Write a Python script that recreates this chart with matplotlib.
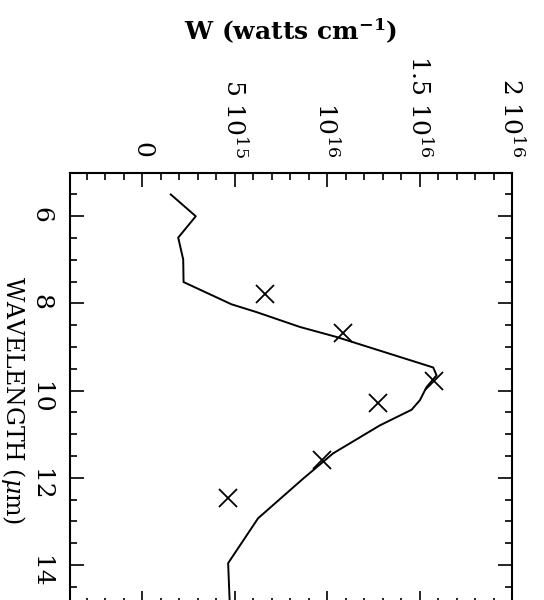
import matplotlib
matplotlib.use("Agg")
import matplotlib.pyplot as plt
from matplotlib.ticker import MultipleLocator

plt.rcParams['font.family'] = ['DejaVu Serif']
plt.rcParams['mathtext.fontset'] = 'custom'
plt.rcParams['mathtext.rm'] = 'DejaVu Serif'
plt.rcParams['mathtext.it'] = 'DejaVu Serif:italic'
plt.rcParams['mathtext.bf'] = 'DejaVu Serif:bold'

# model curve (wavelength in um, W in watts/cm)
lam_model = [5.5, 6.0, 6.49, 6.99, 7.51, 8.02, 8.2, 8.54, 8.77, 9.47, 9.65,
             9.92, 10.22, 10.44, 10.8, 11.44, 12.02, 12.93, 13.96, 14.92]
w_model = [1.55, 2.90, 1.95, 2.22, 2.24, 4.83, 6.19, 8.53, 10.51, 15.74, 15.92,
           15.38, 15.02, 14.57, 12.85, 10.33, 8.71, 6.27, 4.65, 4.74]

# measured points
lam_obs = [7.79, 8.69, 9.78, 10.28, 11.60, 12.47]
w_obs = [6.64, 10.87, 15.78, 12.73, 9.74, 4.65]

w_ticks = [0, 5e15, 1e16, 1.5e16, 2e16]
w_ticklabels = ['0', r'5 10$^{15}$', r'10$^{16}$', r'1.5 10$^{16}$', r'2 10$^{16}$']
lam_ticks = [6, 8, 10, 12, 14]
lam_ticklabels = ['6', '8', '10', '12', '14']

w_model = [v * 1e15 for v in w_model]
w_obs = [v * 1e15 for v in w_obs]

fig = plt.figure(figsize=(5.44, 6.0), dpi=100)
ax = fig.add_axes([0.1287, -0.0083, 0.8125, 0.7205])

ax.plot(w_model, lam_model, color='black', lw=1.4)
ax.plot(w_obs, lam_obs, ls='none', marker='x', ms=13, mew=1.3, color='black')

ax.set_xlim(-3.9e15, 2e16)
ax.set_ylim(14.92, 5)

ax.set_xticks(w_ticks, labels=w_ticklabels)
ax.xaxis.set_minor_locator(MultipleLocator(1e15))
ax.set_yticks(lam_ticks, labels=lam_ticklabels)
ax.yaxis.set_minor_locator(MultipleLocator(0.5))

ax.tick_params(which='both', direction='in', top=True, bottom=True,
               left=True, right=True, labeltop=True, labelbottom=False,
               width=1.2)
ax.tick_params(which='major', length=10)
ax.tick_params(which='minor', length=5)
ax.tick_params(axis='x', pad=11, labelsize=18, labelrotation=-90)
ax.tick_params(axis='y', pad=13, labelsize=18, labelrotation=-90)
for s in ax.spines.values():
    s.set_linewidth(1.5)

ax.xaxis.set_label_position('top')
ax.set_xlabel(r'W (watts cm$^{\mathbf{-1}}$)', fontsize=18, fontweight='bold')
ax.xaxis.set_label_coords(0.5, 1.307)

ax.set_ylabel(r'WAVELENGTH ($\mu$m)', fontsize=17, rotation=-90,
              rotation_mode='anchor', ha='center', va='center')
ax.yaxis.set_label_coords(-0.129, 0.474)

fig.savefig('out.png', dpi=100)
